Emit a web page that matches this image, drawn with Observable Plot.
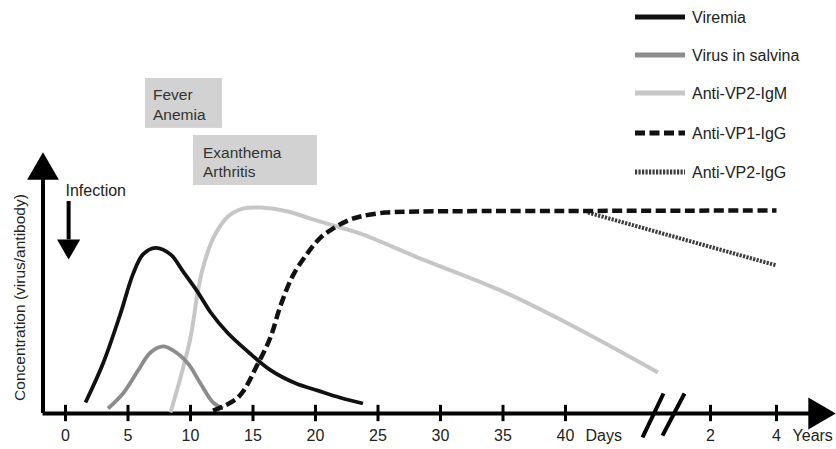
<!DOCTYPE html>
<html><head><meta charset="utf-8">
<script src="https://cdn.jsdelivr.net/npm/d3@7"></script>
<script src="https://cdn.jsdelivr.net/npm/@observablehq/plot@0.6"></script>
<style>
body{margin:0;background:#fff;font-family:"Liberation Sans",Arial,Helvetica,sans-serif;}
#wrap{position:relative;width:836px;height:449px;}
#legend{position:absolute;left:630px;top:0;width:206px;height:190px;}
</style></head><body><div id="wrap"></div>
<script>
// ---- data (x in days, y in relative concentration units) ----
const viremiaDay = [1.6, 3.0, 4.4, 5.4, 6.2, 7.2, 8.4, 9.4, 10.6, 11.6, 13.0, 14.6, 16.4, 18.4, 20.2, 22.0, 23.8];
const viremiaVal = [4.2, 19.0, 38.0, 53.0, 60.5, 63.0, 60.5, 54.0, 46.0, 38.5, 30.5, 23.5, 16.5, 11.5, 8.7, 6.0, 3.8];

const salivaDay = [3.4, 4.6, 5.8, 6.8, 7.8, 8.6, 9.8, 10.8, 11.8, 12.6];
const salivaVal = [1.9, 7.6, 16.3, 23.2, 25.5, 24.0, 19.0, 11.4, 4.2, 1.9];

const igmDay = [8.4, 9.2, 10.0, 10.6, 11.0, 11.8, 13.0, 14.2, 15.6, 17.8, 19.6, 21.4, 23.6, 28.2, 34.8, 40.2, 47.4];
const igmVal = [0.4, 13.7, 28.9, 46.8, 55.5, 66.5, 74.9, 77.9, 78.3, 76.8, 74.1, 71.5, 68.4, 59.3, 46.8, 34.2, 15.6];

const vp1Day = [11.8, 13.8, 15.4, 16.4, 17.2, 18.2, 19.4, 20.4, 21.4, 22.6, 23.6, 25.6, 28.2, 40, 1460];
const vp1Val = [1.1, 6.1, 19.0, 29.0, 41.0, 52.5, 61.2, 66.9, 70.3, 73.4, 74.9, 76.4, 76.8, 77.0, 77.2];

const vp2Day = [41.8, 1460];
const vp2Val = [76.4, 56.3];

const dayTicks = [0, 5, 10, 15, 20, 25, 30, 35, 40];
const yearTicks = [2, 4];

const seriesNames = ["Viremia", "Virus in salvina", "Anti-VP2-IgM", "Anti-VP1-IgG", "Anti-VP2-IgG"];
const boxLabels = [["Fever", "Anemia"], ["Exanthema", "Arthritis"]];

// ---- styles ----
const styles = {
  "Viremia": {stroke: "#111", strokeWidth: 3.8},
  "Virus in salvina": {stroke: "#8c8c8c", strokeWidth: 3.8},
  "Anti-VP2-IgM": {stroke: "#c6c6c6", strokeWidth: 4},
  "Anti-VP1-IgG": {stroke: "#111", strokeWidth: 4.5, strokeDasharray: "10,4.5"},
  "Anti-VP2-IgG": {stroke: "#3c3c3c", strokeWidth: 4, strokeDasharray: "2.2,1.3"}
};

const rows = (days, vals) => days.map((d, i) => ({x: d, y: vals[i]}));
const sets = {
  "Viremia": rows(viremiaDay, viremiaVal),
  "Virus in salvina": rows(salivaDay, salivaVal),
  "Anti-VP2-IgM": rows(igmDay, igmVal),
  "Anti-VP1-IgG": rows(vp1Day, vp1Val),
  "Anti-VP2-IgG": rows(vp2Day, vp2Val)
};

const axisStart = -1.8, axisEnd = 1774, yTop = 92.4;
const font = "Liberation Sans, Arial, sans-serif";
const tickFs = 16;

const lineMark = name => Plot.line(sets[name], {x: "x", y: "y", curve: "catmull-rom", strokeLinecap: "butt", ...styles[name]});

const chart = Plot.plot({
  width: 836, height: 449,
  style: {fontFamily: font, background: "#fff"},
  x: {type: "linear", domain: [-2, 48, 730, 1460, 1920], range: [40, 665, 710, 776, 836], axis: null},
  y: {domain: [0, 100], range: [413, 150], axis: null},
  marks: [
    // annotation boxes
    Plot.rect([{x1: 6.4, x2: 12.56, y1: 108.4, y2: 127.4}, {x1: 10.24, x2: 20.16, y1: 86.7, y2: 105.7}],
      {x1: "x1", x2: "x2", y1: "y1", y2: "y2", fill: "#d2d2d2"}),
    Plot.text([{x: 7.0, y: 121, t: boxLabels[0][0]}, {x: 7.0, y: 113.6, t: boxLabels[0][1]},
               {x: 11.0, y: 99.2, t: boxLabels[1][0]}, {x: 11.0, y: 91.8, t: boxLabels[1][1]}],
      {x: "x", y: "y", text: "t", textAnchor: "start", fontSize: 15.5, fill: "#333"}),
    // axes
    Plot.ruleY([0], {x1: axisStart, x2: axisEnd, stroke: "#000", strokeWidth: 4}),
    Plot.ruleX([axisStart], {y1: 0, y2: yTop, stroke: "#000", strokeWidth: 4}),
    Plot.dot([{x: axisStart, y: yTop}], {x: "x", y: "y", symbol: "triangle", r: 11.8, fill: "#000", stroke: null}),
    Plot.dot([{x: axisEnd, y: 0}], {x: "x", y: "y", symbol: "triangle", r: 11.8, fill: "#000", stroke: null, rotate: 90}),
    // ticks
    Plot.ruleX([...dayTicks, ...yearTicks.map(y => y * 365)], {y1: -3.1, y2: 3.1, stroke: "#000", strokeWidth: 3}),
    Plot.text(dayTicks, {x: d => d, y: -8.4, text: d => String(d), fontSize: tickFs, fill: "#222"}),
    Plot.text(yearTicks, {x: d => d * 365, y: -8.4, text: d => String(d), fontSize: tickFs, fill: "#222"}),
    Plot.text(["Days"], {x: 41.6, y: -8.4, text: d => d, textAnchor: "start", fontSize: tickFs, fill: "#222"}),
    Plot.text(["Years"], {x: 1583, y: -8.4, text: d => d, textAnchor: "start", fontSize: tickFs, fill: "#222"}),
    // axis break
    Plot.link([{x1: 46.16, y1: -9.1, x2: 47.84, y2: 7.6}, {x1: 47.76, y1: -8.4, x2: 336, y2: 7.6}],
      {x1: "x1", y1: "y1", x2: "x2", y2: "y2", stroke: "#000", strokeWidth: 4}),
    // y label
    Plot.text(["Concentration (virus/antibody)"], {x: -3.6, y: 44.1, text: d => d, rotate: -90, fontSize: 15.5, fill: "#222"}),
    // infection marker
    Plot.text(["Infection"], {x: 0, y: 84.8, text: d => d, textAnchor: "start", fontSize: 16, fill: "#222"}),
    Plot.ruleX([0.25], {y1: 80.6, y2: 66, stroke: "#000", strokeWidth: 4}),
    Plot.dot([{x: 0.25, y: 63.6}], {x: "x", y: "y", symbol: "triangle", r: 8.6, fill: "#000", stroke: null, rotate: 180}),
    // curves
    lineMark("Anti-VP2-IgM"),
    lineMark("Virus in salvina"),
    lineMark("Viremia"),
    lineMark("Anti-VP2-IgG"),
    lineMark("Anti-VP1-IgG")
  ]
});

const wrap = document.getElementById("wrap");
wrap.appendChild(chart);

// legend overlay
const leg = d3.select(wrap).append("svg").attr("id", "legend").attr("width", 206).attr("height", 190);
const legRowY = [17, 55, 93, 133, 172];
seriesNames.forEach((name, i) => {
  const s = styles[name];
  leg.append("line").attr("x1", 5).attr("x2", 55).attr("y1", legRowY[i]).attr("y2", legRowY[i])
    .attr("stroke", s.stroke).attr("stroke-width", 5).attr("stroke-dasharray", s.strokeDasharray || null);
  leg.append("text").attr("x", 62).attr("y", legRowY[i]).attr("dy", "0.35em")
    .attr("font-family", font).attr("font-size", 16).attr("fill", "#222").text(name);
});
</script>
</body></html>
